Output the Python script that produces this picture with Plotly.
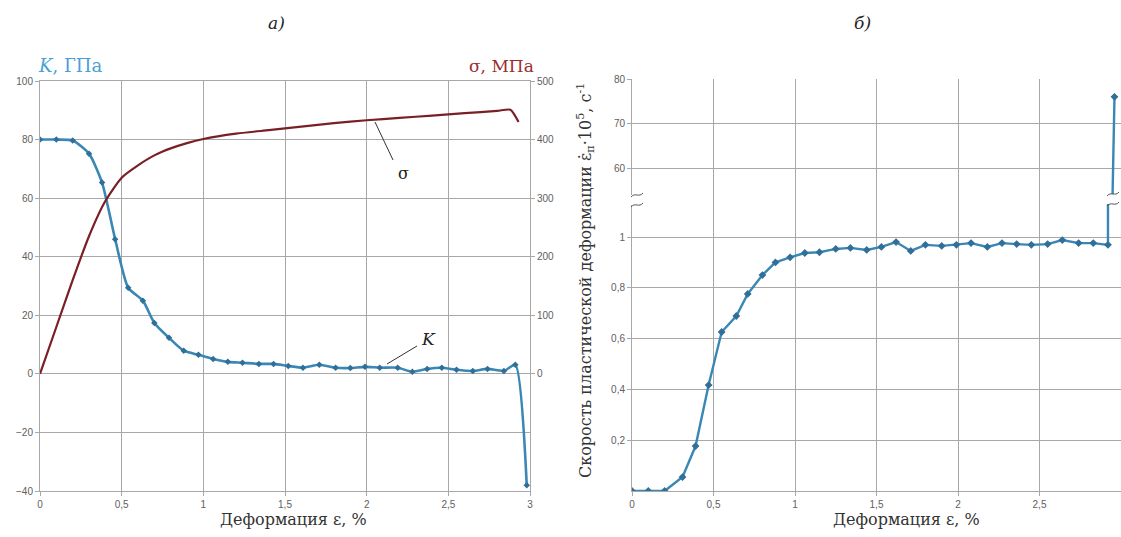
import plotly.graph_objects as go

W, H = 1121, 537

# ---------------- data ----------------
# Left chart: bulk modulus K (GPa) vs strain (%)
k_strain = [0, 0.1, 0.2, 0.3, 0.38, 0.46, 0.54, 0.63, 0.7, 0.79, 0.88, 0.97, 1.06, 1.15,
            1.24, 1.34, 1.43, 1.52, 1.61, 1.71, 1.81, 1.9, 1.99, 2.08, 2.19, 2.28, 2.37,
            2.46, 2.55, 2.65, 2.74, 2.84, 2.91, 2.98]
k_values = [80, 80, 79.7, 75.2, 65.3, 46, 29.4, 25, 17.4, 12.3, 7.9, 6.5, 5.1, 4.1,
            3.8, 3.4, 3.4, 2.7, 2.1, 3.1, 2.1, 2.0, 2.4, 2.1, 2.1, 0.7, 1.7,
            2.1, 1.4, 1.0, 1.7, 1.0, 3.1, -38]

# Left chart: stress sigma (MPa) vs strain (%)
s_strain = [0, 0.1, 0.2, 0.3, 0.4, 0.5, 0.6, 0.7, 0.8, 0.9, 1.0, 1.2, 1.4, 1.6, 1.8,
            2.0, 2.2, 2.4, 2.6, 2.8, 2.88, 2.93]
s_values = [0, 80, 160, 235, 295, 335, 356, 373, 385, 394, 401, 410, 416, 422, 428,
            433, 437, 441, 445, 449, 451, 430]

# Right chart: plastic strain rate (x10^5 1/s) vs strain (%)
r_strain = [0, 0.1, 0.2, 0.31, 0.39, 0.47, 0.55, 0.64, 0.71, 0.8, 0.88, 0.97, 1.06, 1.15,
            1.25, 1.34, 1.44, 1.53, 1.62, 1.71, 1.8, 1.9, 1.99, 2.08, 2.18, 2.27, 2.36,
            2.45, 2.55, 2.64, 2.74, 2.83, 2.92, 2.96]
r_values = [0, 0, 0, 0.055, 0.177, 0.417, 0.626, 0.689, 0.776, 0.85, 0.9, 0.92, 0.937, 0.94,
            0.953, 0.957, 0.949, 0.961, 0.98, 0.945, 0.969, 0.965, 0.969, 0.976, 0.961, 0.976, 0.972,
            0.969, 0.972, 0.988, 0.976, 0.976, 0.969, 76]

x_ticks = [0, 0.5, 1, 1.5, 2, 2.5, 3]
x_ticktext = ["0", "0,5", "1", "1,5", "2", "2,5", "3"]
k_ticks = [-40, -20, 0, 20, 40, 60, 80, 100]
s_ticks = [0, 100, 200, 300, 400, 500]
r_low_ticks = [0.2, 0.4, 0.6, 0.8, 1]
r_low_text = ["0,2", "0,4", "0,6", "0,8", "1"]
r_high_ticks = [60, 70, 80]


def px(x):
    return x / W


def py(y):
    return 1 - y / H


BLUE = "#3a87b5"
RED = "#7a1f24"
GRID = "#a8a8a8"
TICKFONT = dict(family="Liberation Sans", size=10, color="#606060")
SERIF = "DejaVu Serif"

fig = go.Figure()

fig.add_trace(go.Scatter(
    x=s_strain, y=s_values, xaxis="x", yaxis="y2", mode="lines",
    line=dict(color=RED, width=2.2, shape="spline", smoothing=0.6),
    hoverinfo="skip"))
fig.add_trace(go.Scatter(
    x=k_strain, y=k_values, xaxis="x", yaxis="y", mode="lines+markers",
    line=dict(color=BLUE, width=2.6, shape="spline", smoothing=0.6),
    marker=dict(symbol="diamond", size=5, color="#2f6f98"),
    hoverinfo="skip"))

# Right chart: lower pane and upper pane of the broken axis
fig.add_trace(go.Scatter(
    x=r_strain, y=r_values, xaxis="x2", yaxis="y3", mode="lines+markers",
    line=dict(color=BLUE, width=2.4),
    marker=dict(symbol="diamond", size=6, color="#2f6f98"),
    hoverinfo="skip"))
fig.add_trace(go.Scatter(
    x=r_strain, y=r_values, xaxis="x2", yaxis="y4", mode="lines+markers",
    line=dict(color=BLUE, width=2.4),
    marker=dict(symbol="diamond", size=6, color="#2f6f98"),
    hoverinfo="skip"))

axis_common = dict(showgrid=True, gridcolor=GRID, gridwidth=1, zeroline=False,
                   showline=True, linecolor=GRID, linewidth=1, mirror=True,
                   ticks="outside", ticklen=4, tickcolor=GRID, tickfont=TICKFONT,
                   automargin=False, fixedrange=True)

fig.update_layout(
    width=W, height=H,
    margin=dict(l=0, r=0, t=0, b=0),
    paper_bgcolor="white", plot_bgcolor="white",
    showlegend=False,
    xaxis=dict(domain=[px(40), px(530)], range=[0, 3], tickvals=x_ticks,
               ticktext=x_ticktext, anchor="y", **axis_common),
    yaxis=dict(domain=[py(491), py(81)], range=[-40, 100], tickvals=k_ticks,
               anchor="x", **axis_common),
    yaxis2=dict(overlaying="y", side="right", range=[-200, 500], tickvals=s_ticks,
                showgrid=False, zeroline=False, showline=False, anchor="x",
                ticks="outside", ticklen=4, tickcolor=GRID, tickfont=TICKFONT,
                automargin=False, fixedrange=True),
    xaxis2=dict(domain=[px(632), 1.0], range=[0, 3], tickvals=x_ticks,
                ticktext=x_ticktext, anchor="y3",
                **{**axis_common, "mirror": False}),
    yaxis3=dict(domain=[py(491), py(200)], range=[0, 1 + 37 / 254],
                tickvals=r_low_ticks, ticktext=r_low_text, anchor="x2",
                **{**axis_common, "mirror": False}),
    yaxis4=dict(domain=[py(200), py(79)], range=[60 - 32 / 4.45, 80],
                tickvals=r_high_ticks, anchor="x2",
                **{**axis_common, "mirror": False}),
)

ann = []
# panel letters
ann.append(dict(x=px(276), y=py(23), text="<i>а)</i>", font=dict(family=SERIF, size=17, color="#222")))
ann.append(dict(x=px(862), y=py(23), text="<i>б)</i>", font=dict(family=SERIF, size=17, color="#222")))
# axis titles of left chart
ann.append(dict(x=px(36), y=py(66), xanchor="left", text="<i>K</i>, ГПа",
                font=dict(family=SERIF, size=18, color="#4a9fd6")))
ann.append(dict(x=px(536), y=py(66), xanchor="right", text="σ, МПа",
                font=dict(family=SERIF, size=17, color="#9b2d30")))
# x titles
ann.append(dict(x=px(293), y=py(519), text="Деформация ε, %",
                font=dict(family=SERIF, size=16, color="#333")))
ann.append(dict(x=px(906), y=py(519), text="Деформация ε, %",
                font=dict(family=SERIF, size=16, color="#333")))
# y title of right chart
ann.append(dict(x=px(585), y=py(281), textangle=-90,
                text="Скорость пластической деформации ε̇<sub>п</sub>·10<sup>5</sup>, с<sup>-1</sup>",
                font=dict(family=SERIF, size=16, color="#333")))
# curve labels
ann.append(dict(x=px(403), y=py(173), text="σ", font=dict(family=SERIF, size=16, color="#222")))
ann.append(dict(x=px(428), y=py(339), text="<i>K</i>", font=dict(family=SERIF, size=17, color="#222")))

for a in ann:
    a.setdefault("xanchor", "center")
    a.update(xref="paper", yref="paper", showarrow=False, yanchor="middle")
fig.update_layout(annotations=ann)

shapes = []
# leader lines
shapes.append(dict(type="line", x0=px(375), y0=py(122), x1=px(393), y1=py(160),
                   line=dict(color="#333", width=1)))
shapes.append(dict(type="line", x0=px(387), y0=py(364), x1=px(417), y1=py(346),
                   line=dict(color="#333", width=1)))


def break_mark(cx, cy, w=12):
    # small gap with two wavy strokes
    shapes.append(dict(type="rect", x0=px(cx - w / 2 - 1), x1=px(cx + w / 2 + 1),
                       y0=py(cy + 5), y1=py(cy - 5), line=dict(width=0),
                       fillcolor="white", layer="above"))
    for dy in (-5, 5):
        y = cy + dy
        path = (f"M {px(cx - w/2)},{py(y + 2)} C {px(cx - w/6)},{py(y - 3)} "
                f"{px(cx + w/6)},{py(y + 3)} {px(cx + w/2)},{py(y - 2)}")
        shapes.append(dict(type="path", path=path, xref="paper", yref="paper",
                           line=dict(color="#555", width=1), layer="above"))


break_mark(637, 200)
break_mark(1113, 199)

for s in shapes:
    s.setdefault("xref", "paper")
    s.setdefault("yref", "paper")
fig.update_layout(shapes=shapes)

fig.write_html("out.html")
